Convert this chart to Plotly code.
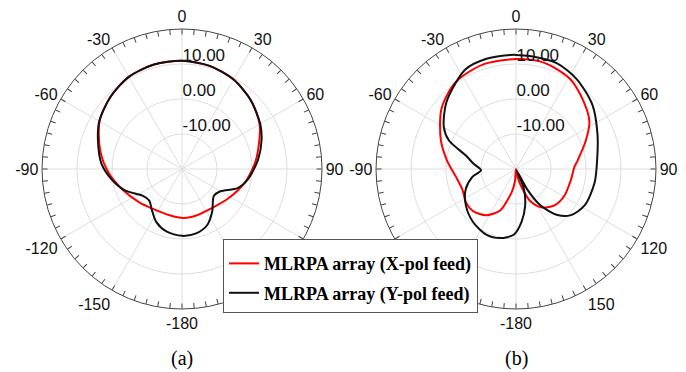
import plotly.graph_objects as go

# ---- data (angle in degrees, gain in dB) ----
a_x_theta = [0, 15, 30, 45, 60, 76, 86, 103, 123, 144, 162, 178, 195, 216, 232, 251, 267, 283, 300, 315, 330, 345, 360]
a_x_r = [10.9, 10.5, 9.5, 7.8, 5.6, 2.4, 0.8, -1.75, -4.4, -6.0, -6.1, -6.0, -6.3, -5.9, -4.5, -2.0, 1.0, 4.0, 7.2, 9.0, 10.4, 10.9, 10.9]

a_y_theta = [0, 15, 30, 45, 60, 70, 83, 99, 109, 120, 130, 145, 156, 167, 180, 194, 206, 216, 226, 236, 249, 261, 274, 289, 300, 315, 330, 345, 360]
a_y_r = [10.9, 10.5, 9.5, 7.8, 5.8, 4.2, 1.9, -0.95, -3.2, -7.3, -8.1, -5.0, -2.4, -1.2, -0.9, -1.6, -3.2, -5.4, -7.0, -6.4, -2.7, 0.2, 3.1, 5.4, 7.3, 9.0, 10.4, 10.9, 10.9]

b_x_theta = [0, 15, 31, 45, 57, 68, 82, 88, 101, 119, 134, 147, 156, 162, 170, 177, 185, 190, 195, 201, 213, 226, 236, 249, 263, 277, 291, 309, 325, 342, 360]
b_x_r = [11.4, 11.4, 10.0, 7.3, 5.0, 1.5, -2.2, -3.3, -4.0, -4.2, -4.9, -7.0, -10.0, -14.0, -18.0, -20.0, -16.5, -13.5, -11.0, -7.3, -4.25, -2.8, -2.8, -3.6, -2.65, -0.15, 3.0, 7.4, 10.2, 11.3, 11.4]

b_y_theta = [0, 7, 21, 34, 50, 67, 84, 100, 118, 130, 138, 146, 151, 154, 158, 166, 174, 182, 193, 204, 219, 234, 248, 260, 268, 277, 285, 293, 300, 314, 333, 345, 357, 360]
b_y_r = [12.6, 12.5, 12.4, 11.0, 8.5, 5.3, 3.3, 2.8, 2.2, 0.5, -2.3, -7.4, -13.0, -19.5, -14.0, -9.2, -4.8, -1.2, 0.25, 0.6, -0.5, -2.3, -4.5, -7.4, -10.0, -7.8, -5.2, 0.8, 3.8, 7.6, 11.9, 12.6, 12.6, 12.6]

angle_ticks = [0, 30, 60, 90, 120, 150, 180, 210, 240, 270, 300, 330]
angle_labels = ["0", "30", "60", "90", "120", "150", "-180", "-150", "-120", "-90", "-60", "-30"]
minor_ticks = list(range(0, 360, 5))
radial_ticks = [-10, 0, 10]
radial_labels = ["-10.00", "0.00", "10.00"]
series_names = ["MLRPA array (X-pol feed)", "MLRPA array (Y-pol feed)"]
panel_labels = ["(a)", "(b)"]

RED = "#ff0000"
BLACK = "#111111"
W, H = 686, 372
R = 140
LABEL_LIFT = 2.3  # radial labels sit a little above their circles
centers = [(182, 169), (516, 169)]

fig = go.Figure()

def add(theta, r, color, name, sub, show):
    fig.add_trace(go.Scatterpolar(
        theta=theta, r=r, mode="lines", name=name, subplot=sub, legendgroup=name,
        line=dict(color=color, width=2, shape="spline", smoothing=0.8),
        showlegend=show, hoverinfo="skip"))

add(a_x_theta, a_x_r, RED, series_names[0], "polar", True)
add(a_y_theta, a_y_r, BLACK, series_names[1], "polar", True)
add(b_x_theta, b_x_r, RED, series_names[0], "polar2", False)
add(b_y_theta, b_y_r, BLACK, series_names[1], "polar2", False)

# empty anchors for the overlay subplots (minor ticks + radial labels)
for sub in ["polar3", "polar4"]:
    fig.add_trace(go.Scatterpolar(theta=[None], r=[None], mode="lines", subplot=sub,
                                  showlegend=False, hoverinfo="skip"))

grid = "#dedede"
def dom(cx, cy):
    return dict(x=[(cx - R) / W, (cx + R) / W], y=[(H - cy - R) / H, (H - cy + R) / H])

def main_polar(cx, cy):
    return dict(
        domain=dom(cx, cy),
        bgcolor="white",
        angularaxis=dict(rotation=90, direction="clockwise", tickmode="array",
                         tickvals=angle_ticks, ticktext=angle_labels, showgrid=True,
                         gridcolor=grid, gridwidth=1, ticks="", showline=True,
                         linecolor="#444", linewidth=1,
                         tickfont=dict(family="Liberation Sans", size=16, color="#111")),
        radialaxis=dict(range=[-20, 20], tickmode="array", tickvals=radial_ticks,
                        showticklabels=False, angle=90,
                        showline=False, ticks="", gridcolor=grid, gridwidth=1),
    )

def overlay_polar(cx, cy):
    return dict(
        domain=dom(cx, cy),
        bgcolor="rgba(0,0,0,0)",
        angularaxis=dict(rotation=90, direction="clockwise", tickmode="array",
                         tickvals=minor_ticks, showticklabels=False, showgrid=False,
                         ticks="inside", ticklen=5, tickcolor="#444", tickwidth=1,
                         showline=False),
        radialaxis=dict(range=[-20, 20], tickmode="array",
                        tickvals=[v + LABEL_LIFT for v in radial_ticks],
                        ticktext=radial_labels, angle=90, side="clockwise", tickangle=90,
                        showline=False, showgrid=False, ticks="",
                        tickfont=dict(family="Liberation Sans", size=17, color="#111")),
    )

fig.update_layout(
    width=W, height=H, margin=dict(l=0, r=0, t=0, b=0),
    paper_bgcolor="white",
    polar=main_polar(*centers[0]), polar2=main_polar(*centers[1]),
    polar3=overlay_polar(*centers[0]), polar4=overlay_polar(*centers[1]),
    showlegend=True,
    legend=dict(x=223 / W, y=1 - 239 / H, xanchor="left", yanchor="top",
                bgcolor="white", bordercolor="#555", borderwidth=1,
                tracegroupgap=3,
                title=dict(text=" ", font=dict(size=4)),
                font=dict(family="Liberation Serif", size=18, color="black", weight="bold")),
)

for (cx, cy), lab in zip(centers, panel_labels):
    fig.add_annotation(x=cx / W, y=1 - 358 / H, xref="paper", yref="paper", text=lab,
                       showarrow=False, xanchor="center", yanchor="middle",
                       font=dict(family="Liberation Serif", size=20, color="black"))

fig.write_html("out.html")
